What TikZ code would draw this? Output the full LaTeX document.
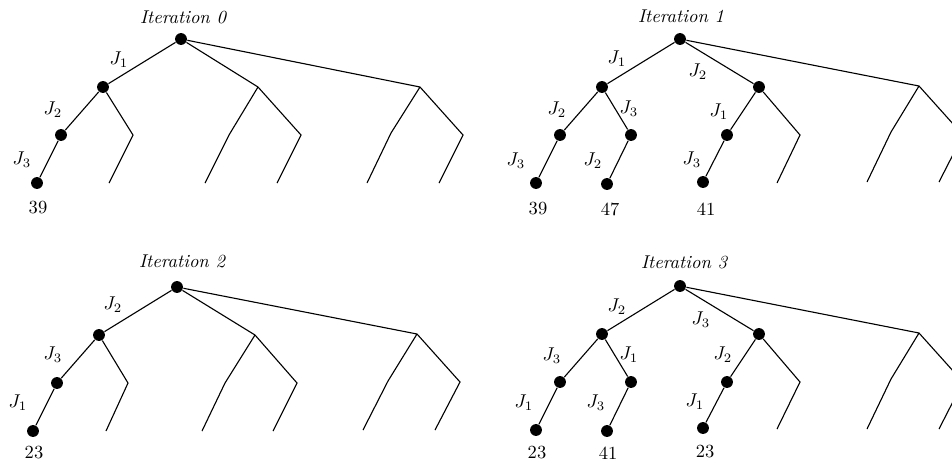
\documentclass[tikz,border=0pt]{standalone}
\begin{document}
\begin{tikzpicture}[x=0.54pt,y=-0.54pt,line width=0.6pt,
  dot/.style={circle,fill=black,inner sep=0pt,minimum size=6.4pt},
  lbl/.style={inner sep=0pt,font=\normalsize},
  itr/.style={inner sep=0pt,font=\normalsize\itshape}]
\clip (0,0) rectangle (952,461);
\newcommand\treeedges[1]{%
  \draw (#1-r)--(#1-c1) (#1-r)--(#1-c2) (#1-r)--(#1-c3)
        (#1-c1)--(#1-g11)--(#1-l11) (#1-c1)--(#1-g12)--(#1-l12)
        (#1-c2)--(#1-g21)--(#1-l21) (#1-c2)--(#1-g22)--(#1-l22)
        (#1-c3)--(#1-g31)--(#1-l31) (#1-c3)--(#1-g32)--(#1-l32);}
% ---------- Iteration 0 ----------
\node[itr] (a-t) at (183,17) {Iteration 0};
\node[dot] (a-r) at (181,39) {};
\node[dot] (a-c1) at (103,87) {};
\coordinate (a-c2) at (258,87);
\coordinate (a-c3) at (420,87);
\node[dot] (a-g11) at (61,135) {};
\coordinate (a-g12) at (133,135);
\coordinate (a-g21) at (229,135);
\coordinate (a-g22) at (301,135);
\coordinate (a-g31) at (391,133);
\coordinate (a-g32) at (463,135);
\node[dot] (a-l11) at (37,183) {};
\coordinate (a-l12) at (109,183);
\coordinate (a-l21) at (205,183);
\coordinate (a-l22) at (277,183);
\coordinate (a-l31) at (367,183);
\coordinate (a-l32) at (439,183);
\treeedges{a}
\node[lbl] (a-j1) at (119,60) {$J_1$};
\node[lbl] (a-j2) at (53,110) {$J_2$};
\node[lbl] (a-j3) at (22,160) {$J_3$};
\node[lbl] (a-v1) at (38,208) {39};
% ---------- Iteration 1 ----------
\node[itr] (b-t) at (681,16) {Iteration 1};
\node[dot] (b-r) at (680,39) {};
\node[dot] (b-c1) at (602,87) {};
\node[dot] (b-c2) at (759,87) {};
\coordinate (b-c3) at (919,86);
\node[dot] (b-g11) at (560,135) {};
\node[dot] (b-g12) at (631,135) {};
\node[dot] (b-g21) at (727,135) {};
\coordinate (b-g22) at (800,135);
\coordinate (b-g31) at (891,132);
\coordinate (b-g32) at (963,135);
\node[dot] (b-l11) at (536,183) {};
\node[dot] (b-l12) at (607,184) {};
\node[dot] (b-l21) at (703,182) {};
\coordinate (b-l22) at (777,183);
\coordinate (b-l31) at (867,182);
\coordinate (b-l32) at (939,182);
\treeedges{b}
\node[lbl] (b-j1) at (617,59) {$J_1$};
\node[lbl] (b-j2) at (698,72) {$J_2$};
\node[lbl] (b-j3) at (557,110) {$J_2$};
\node[lbl] (b-j4) at (629,109) {$J_3$};
\node[lbl] (b-j5) at (719,112) {$J_1$};
\node[lbl] (b-j6) at (516,161) {$J_3$};
\node[lbl] (b-j7) at (593,161) {$J_2$};
\node[lbl] (b-j8) at (692,160) {$J_3$};
\node[lbl] (b-v1) at (538,209) {39};
\node[lbl] (b-v2) at (610,209) {47};
\node[lbl] (b-v3) at (706,209) {41};
% ---------- Iteration 2 ----------
\node[itr] (c-t) at (182,261) {Iteration 2};
\node[dot] (c-r) at (177,287) {};
\node[dot] (c-c1) at (99,335) {};
\coordinate (c-c2) at (255,335);
\coordinate (c-c3) at (417,334);
\node[dot] (c-g11) at (57,383) {};
\coordinate (c-g12) at (128,383);
\coordinate (c-g21) at (225,383);
\coordinate (c-g22) at (297,383);
\coordinate (c-g31) at (388,381);
\coordinate (c-g32) at (460,382);
\node[dot] (c-l11) at (33,431) {};
\coordinate (c-l12) at (106,431);
\coordinate (c-l21) at (202,431);
\coordinate (c-l22) at (273,431);
\coordinate (c-l31) at (363,430);
\coordinate (c-l32) at (435,430);
\treeedges{c}
\node[lbl] (c-j1) at (113,305) {$J_2$};
\node[lbl] (c-j2) at (53,355) {$J_3$};
\node[lbl] (c-j3) at (18,403) {$J_1$};
\node[lbl] (c-v1) at (34,453) {23};
% ---------- Iteration 3 ----------
\node[itr] (d-t) at (684,262) {Iteration 3};
\node[dot] (d-r) at (680,286) {};
\node[dot] (d-c1) at (602,334) {};
\node[dot] (d-c2) at (759,334) {};
\coordinate (d-c3) at (919,333);
\node[dot] (d-g11) at (560,382) {};
\node[dot] (d-g12) at (631,382) {};
\node[dot] (d-g21) at (727,382) {};
\coordinate (d-g22) at (800,382);
\coordinate (d-g31) at (891,379);
\coordinate (d-g32) at (963,382);
\node[dot] (d-l11) at (536,430) {};
\node[dot] (d-l12) at (607,431) {};
\node[dot] (d-l21) at (703,428) {};
\coordinate (d-l22) at (777,429);
\coordinate (d-l31) at (867,429);
\coordinate (d-l32) at (939,429);
\treeedges{d}
\node[lbl] (d-j1) at (617,307) {$J_2$};
\node[lbl] (d-j2) at (701,320) {$J_3$};
\node[lbl] (d-j3) at (552,356) {$J_3$};
\node[lbl] (d-j4) at (629,355) {$J_1$};
\node[lbl] (d-j5) at (723,355) {$J_2$};
\node[lbl] (d-j6) at (524,403) {$J_1$};
\node[lbl] (d-j7) at (596,403) {$J_3$};
\node[lbl] (d-j8) at (695,402) {$J_1$};
\node[lbl] (d-v1) at (537,453) {23};
\node[lbl] (d-v2) at (608,453) {41};
\node[lbl] (d-v3) at (705,452) {23};
\end{tikzpicture}
\end{document}
